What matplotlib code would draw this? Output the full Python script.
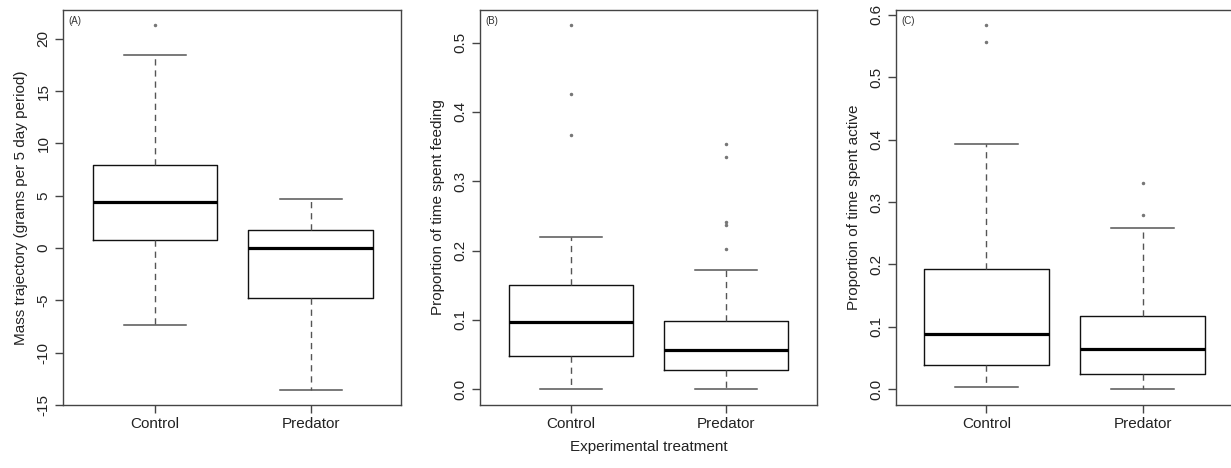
import matplotlib
matplotlib.use("Agg")
import matplotlib.pyplot as plt

plt.rcParams['font.family'] = ['Liberation Sans', 'DejaVu Sans']

groups = ["Control", "Predator"]

# Panel A: mass trajectory
a_whislo = [-7.4, -13.55]
a_q1 = [0.8, -4.8]
a_med = [4.43, 0.0]
a_q3 = [7.9, 1.73]
a_whishi = [18.45, 4.72]
a_fliers = [[21.35], []]

# Panel B: proportion feeding
b_whislo = [0.0, 0.0]
b_q1 = [0.0475, 0.028]
b_med = [0.0974, 0.057]
b_q3 = [0.150, 0.098]
b_whishi = [0.2196, 0.172]
b_fliers = [[0.526, 0.4255, 0.3664], [0.3534, 0.3346, 0.2411, 0.2372, 0.2023]]

# Panel C: proportion active
c_whislo = [0.0038, 0.0]
c_q1 = [0.039, 0.0247]
c_med = [0.0894, 0.0648]
c_q3 = [0.192, 0.1183]
c_whishi = [0.3933, 0.258]
c_fliers = [[0.584, 0.556], [0.3308, 0.279]]

a_ticks = [-15, -10, -5, 0, 5, 10, 15, 20]
b_ticks = [0.0, 0.1, 0.2, 0.3, 0.4, 0.5]
c_ticks = [0.0, 0.1, 0.2, 0.3, 0.4, 0.5, 0.6]

W, H = 1231, 468
fig = plt.figure(figsize=(W / 100, H / 100), dpi=100)

def make_axes(left_px, right_px):
    top_px, bot_px = 10, 405
    return fig.add_axes([left_px / W, (H - bot_px) / H,
                         (right_px - left_px) / W, (bot_px - top_px) / H])

spine_col = "#444444"
text_col = "#222222"

def panel(ax, whislo, q1, med, q3, whishi, fliers, xlim, ylim, ticks,
          ticklabels, ylabel, tag):
    stats = []
    for i, g in enumerate(groups):
        stats.append(dict(label=g, whislo=whislo[i], q1=q1[i], med=med[i],
                          q3=q3[i], whishi=whishi[i], fliers=fliers[i]))
    ax.bxp(stats, positions=[1, 2], widths=0.8, showfliers=True,
           boxprops=dict(color="#111111", linewidth=1.0),
           medianprops=dict(color="black", linewidth=2.3, solid_capstyle="butt"),
           whiskerprops=dict(color="#555555", linewidth=1.0,
                             linestyle=(0, (4.5, 3.5))),
           capprops=dict(color="#555555", linewidth=1.1),
           capwidths=0.4,
           flierprops=dict(marker="o", markersize=1.5, markerfacecolor="#777777",
                           markeredgecolor="#777777", linestyle="none"))
    ax.set_xlim(*xlim)
    ax.set_ylim(*ylim)
    ax.set_yticks(ticks)
    ax.set_yticklabels(ticklabels, rotation=90, va="center")
    ax.set_xticks([1, 2])
    ax.set_xticklabels(groups)
    for s in ax.spines.values():
        s.set_color(spine_col)
        s.set_linewidth(1.0)
    ax.tick_params(direction="out", length=6, width=1.0, color=spine_col,
                   labelsize=11, labelcolor=text_col, pad=3)
    ax.set_ylabel(ylabel, fontsize=11, color=text_col, labelpad=6)
    ax.text(0.015, 0.985, tag, transform=ax.transAxes, fontsize=7,
            color="#333333", va="top", ha="left")

axA = make_axes(63, 401)
panel(axA, a_whislo, a_q1, a_med, a_q3, a_whishi, a_fliers, (0.41, 2.58),
      (-15.0, 22.75), a_ticks, [str(t) for t in a_ticks],
      "Mass trajectory (grams per 5 day period)", "(A)")

axB = make_axes(480, 817)
panel(axB, b_whislo, b_q1, b_med, b_q3, b_whishi, b_fliers, (0.416, 2.588),
      (-0.0227, 0.547), b_ticks, [f"{t:.1f}" for t in b_ticks],
      "Proportion of time spent feeding", "(B)")
axB.set_xlabel("Experimental treatment", fontsize=11, color=text_col, labelpad=6)

axC = make_axes(896, 1238)
panel(axC, c_whislo, c_q1, c_med, c_q3, c_whishi, c_fliers, (0.4226, 2.61),
      (-0.025, 0.6075), c_ticks, [f"{t:.1f}" for t in c_ticks],
      "Proportion of time spent active", "(C)")

fig.savefig("out.png", dpi=100)
